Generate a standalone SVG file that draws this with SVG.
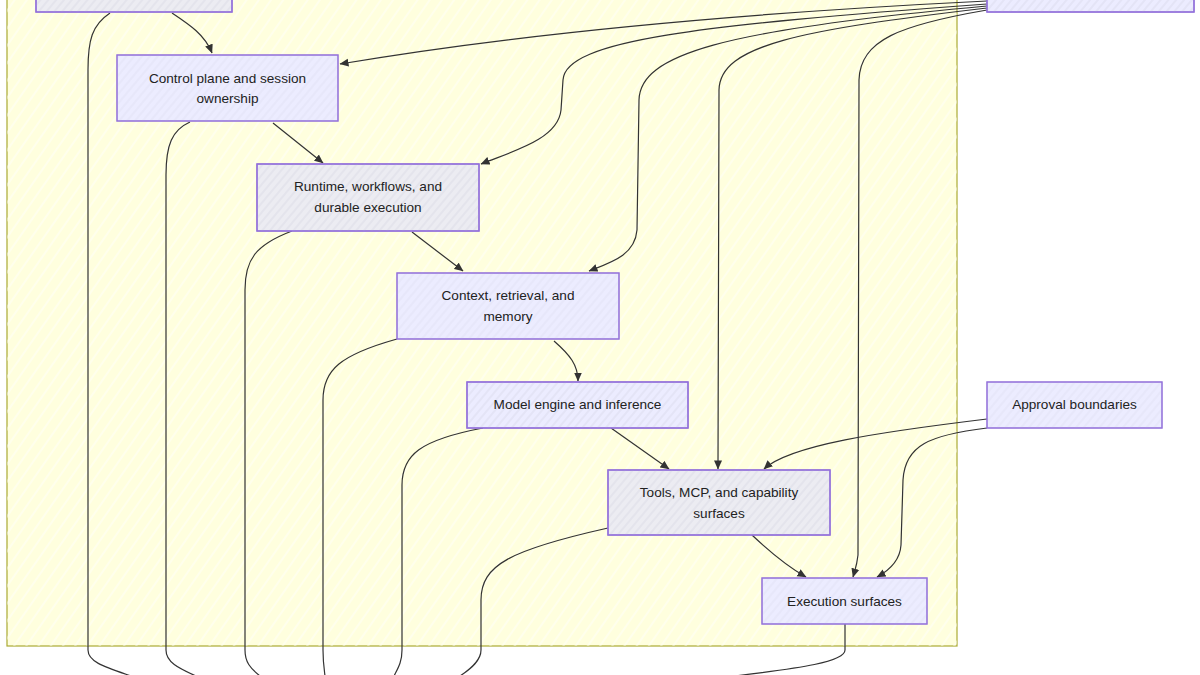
<svg xmlns="http://www.w3.org/2000/svg" width="1200" height="675" viewBox="0 0 1200 675">
<style>
.node rect{stroke:#9370db;stroke-width:1.3}
.n1{fill:#ececff}
.n2{fill:#ececf2}
.hatch{fill:url(#hn)}
.lbl{font-family:"Liberation Sans",Arial,sans-serif;font-size:13.6px;fill:#222;text-anchor:middle}
.edges path{fill:none;stroke:#333;stroke-width:1.2}
.arr{marker-end:url(#ah)}
</style>
<defs>
<pattern id="hy" width="10" height="10" patternUnits="userSpaceOnUse" patternTransform="rotate(35)">
<line x1="2" y1="0" x2="2" y2="10" stroke="#ffffff" stroke-width="1.6" opacity="0.55"/>
</pattern>
<pattern id="hn" width="6" height="6" patternUnits="userSpaceOnUse" patternTransform="rotate(40)">
<line x1="1" y1="0" x2="1" y2="6" stroke="#c8c8d8" stroke-width="0.8" opacity="0.6"/>
</pattern>
<marker id="ah" markerWidth="9" markerHeight="9" refX="8.5" refY="4.5" orient="auto" markerUnits="userSpaceOnUse">
<path d="M0,0.5 L9,4.5 L0,8.5 z" fill="#333"/>
</marker>
</defs>
<rect width="1200" height="675" fill="#ffffff"/>
<g id="cluster">
<rect x="7" y="-20" width="950" height="666" fill="#ffffde" stroke="#aaaa33" stroke-width="1.2"/>
<rect x="7" y="-20" width="950" height="666" fill="url(#hy)"/>
</g>
<g class="edges" id="connectors">
<path class="arr" d="M172,13 C190,25 205,35 212,53"/>
<path d="M110,13 C92,25 88,40 88,70 L88,650 C88,662 105,667 131,676"/>
<path class="arr" d="M273,123 L323,163"/>
<path d="M190,122 C172,130 166,145 166,175 L166,650 C166,662 178,668 196,676"/>
<path class="arr" d="M412,232 L463,271"/>
<path d="M292,231 C255,245 245,260 245,290 L245,650 C245,662 250,668 260,676"/>
<path class="arr" d="M554,341 C570,355 578,365 578,381"/>
<path d="M397,339 C340,355 323,370 323,400 L323,650 C323,662 324,668 325,676"/>
<path class="arr" d="M611,428 L669,469"/>
<path d="M483,428 C420,440 402,455 402,485 L402,650 C402,662 398,668 394,676"/>
<path class="arr" d="M752,535 C770,552 785,565 806,577"/>
<path d="M608,528 C510,550 481,565 481,600 L481,650 C481,660 472,668 460,676"/>
<path d="M845,624 L845,650 C845,662 800,668 735,676"/>
<path class="arr" d="M987,1 Q600,20 340,64"/>
<path class="arr" d="M987,4 C700,25 565,40 563,80 L561,110 C558,140 510,152 481,164"/>
<path class="arr" d="M987,6 C720,30 640,55 639,100 L637,230 C635,255 612,262 589,271"/>
<path class="arr" d="M987,8 C800,30 720,45 719,90 L718,469"/>
<path class="arr" d="M987,10 C900,25 860,40 859,80 L858,555 C857,565 855,570 853,577"/>
<path class="arr" d="M987,419 C880,432 790,445 764,469"/>
<path class="arr" d="M987,428 C930,435 905,445 903,480 L901,545 C900,560 890,570 877,577"/>
</g>
<g class="node" id="node-top-left">
<rect class="n2" x="36" y="-40" width="196" height="52"/>
<rect class="hatch" x="36" y="-40" width="196" height="52" stroke="none"/>
</g>
<g class="node" id="node-top-right">
<rect class="n1" x="987" y="-40" width="207" height="52"/>
<rect class="hatch" x="987" y="-40" width="207" height="52" stroke="none"/>
</g>
<g class="node" id="node-control">
<rect class="n1" x="117" y="55" width="221" height="66"/>
<rect class="hatch" x="117" y="55" width="221" height="66" stroke="none" opacity="0.5"/>
<text class="lbl" x="227.5" y="83">Control plane and session</text>
<text class="lbl" x="227.5" y="103">ownership</text>
</g>
<g class="node" id="node-runtime">
<rect class="n2" x="257" y="164" width="222" height="67"/>
<rect class="hatch" x="257" y="164" width="222" height="67" stroke="none"/>
<text class="lbl" x="368" y="191">Runtime, workflows, and</text>
<text class="lbl" x="368" y="212">durable execution</text>
</g>
<g class="node" id="node-context">
<rect class="n1" x="397" y="273" width="222" height="66"/>
<rect class="hatch" x="397" y="273" width="222" height="66" stroke="none" opacity="0.5"/>
<text class="lbl" x="508" y="300">Context, retrieval, and</text>
<text class="lbl" x="508" y="321">memory</text>
</g>
<g class="node" id="node-model">
<rect class="n1" x="467" y="382" width="221" height="46"/>
<rect class="hatch" x="467" y="382" width="221" height="46" stroke="none"/>
<text class="lbl" x="577.5" y="409">Model engine and inference</text>
</g>
<g class="node" id="node-tools">
<rect class="n2" x="608" y="470" width="222" height="65"/>
<rect class="hatch" x="608" y="470" width="222" height="65" stroke="none"/>
<text class="lbl" x="719" y="497">Tools, MCP, and capability</text>
<text class="lbl" x="719" y="518">surfaces</text>
</g>
<g class="node" id="node-exec">
<rect class="n1" x="762" y="578" width="165" height="46"/>
<rect class="hatch" x="762" y="578" width="165" height="46" stroke="none" opacity="0.5"/>
<text class="lbl" x="844.5" y="606">Execution surfaces</text>
</g>
<g class="node" id="node-approval">
<rect class="n1" x="987" y="382" width="175" height="46"/>
<rect class="hatch" x="987" y="382" width="175" height="46" stroke="none" opacity="0.5"/>
<text class="lbl" x="1074.5" y="409">Approval boundaries</text>
</g>
</svg>
